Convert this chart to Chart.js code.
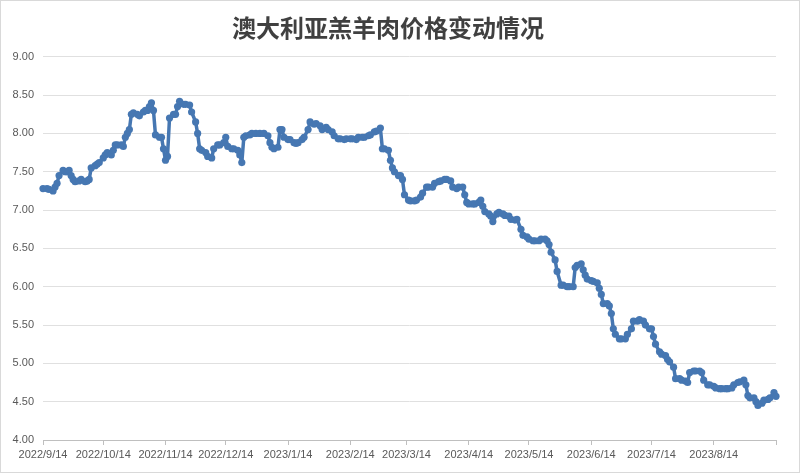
<!DOCTYPE html>
<html>
<head>
<meta charset="utf-8">
<title>澳大利亚羔羊肉价格变动情况</title>
<script src="https://cdn.jsdelivr.net/npm/chart.js@4.4.1/dist/chart.umd.min.js"></script>
<style>
  html, body { margin: 0; padding: 0; background: #fff; }
  #wrap { width: 800px; height: 473px; position: relative; }
</style>
</head>
<body>
<div id="wrap"><canvas id="chartPrecio"></canvas></div>
<script>
// dias desde 2022/9/14 (dia 0)
const dias = [
  0, 2, 3, 5, 6, 7, 8, 10, 11, 12,
  13, 14, 15, 16, 18, 19, 21, 22, 23, 24,
  26, 27, 28, 30, 31, 32, 34, 35, 36, 37,
  39, 40, 41, 42, 43, 44, 45, 47, 48, 50,
  51, 52, 53, 54, 55, 56, 58, 59, 60, 61,
  62, 63, 65, 66, 67, 68, 70, 71, 73, 74,
  76, 77, 78, 79, 81, 82, 84, 85, 87, 88,
  90, 91, 92, 94, 95, 97, 98, 99, 100, 101,
  103, 104, 106, 108, 110, 112, 113, 114, 115, 117,
  118, 119, 120, 122, 123, 125, 126, 127, 129, 130,
  132, 133, 135, 136, 138, 139, 141, 142, 144, 145,
  147, 148, 150, 151, 153, 154, 156, 157, 159, 160,
  162, 163, 165, 166, 168, 169, 170, 172, 173, 174,
  175, 177, 178, 179, 180, 182, 183, 185, 186, 188,
  189, 191, 192, 194, 195, 197, 198, 200, 201, 203,
  204, 206, 207, 209, 210, 211, 212, 214, 215, 217,
  218, 219, 220, 222, 223, 224, 226, 227, 229, 230,
  232, 233, 235, 236, 238, 239, 241, 242, 244, 245,
  247, 248, 250, 251, 252, 253, 255, 256, 258, 259,
  261, 262, 264, 265, 266, 268, 269, 270, 271, 273,
  274, 276, 277, 278, 279, 281, 282, 283, 284, 285,
  287, 288, 290, 291, 293, 294, 296, 297, 299, 300,
  302, 303, 304, 305, 307, 308, 310, 311, 312, 314,
  315, 317, 318, 320, 321, 322, 324, 325, 327, 328,
  329, 331, 332, 334, 335, 337, 338, 340, 341, 343,
  344, 346, 347, 349, 350, 351, 352, 354, 355, 356,
  358, 359, 361, 362, 364, 365
];

const precios = [
  7.28, 7.28, 7.27, 7.25, 7.30, 7.35, 7.45, 7.52, 7.50, 7.50,
  7.52, 7.45, 7.40, 7.37, 7.38, 7.40, 7.37, 7.38, 7.40, 7.55,
  7.58, 7.60, 7.62, 7.68, 7.72, 7.75, 7.72, 7.78, 7.85, 7.85,
  7.85, 7.83, 7.95, 8.00, 8.05, 8.25, 8.27, 8.25, 8.23, 8.28,
  8.30, 8.30, 8.35, 8.40, 8.30, 7.98, 7.95, 7.95, 7.80, 7.65,
  7.70, 8.20, 8.25, 8.25, 8.35, 8.42, 8.38, 8.38, 8.37, 8.28,
  8.15, 8.00, 7.80, 7.78, 7.75, 7.70, 7.68, 7.80, 7.85, 7.85,
  7.88, 7.95, 7.83, 7.80, 7.80, 7.78, 7.72, 7.62, 7.95, 7.97,
  7.98, 8.00, 8.00, 8.00, 8.00, 7.97, 7.88, 7.82, 7.80, 7.82,
  8.05, 8.05, 7.95, 7.92, 7.92, 7.88, 7.87, 7.88, 7.92, 7.95,
  8.05, 8.15, 8.12, 8.13, 8.10, 8.05, 8.08, 8.05, 8.02, 7.97,
  7.93, 7.93, 7.92, 7.93, 7.93, 7.93, 7.92, 7.95, 7.95, 7.95,
  7.97, 7.98, 8.02, 8.03, 8.07, 7.80, 7.80, 7.78, 7.65, 7.55,
  7.50, 7.45, 7.45, 7.40, 7.20, 7.13, 7.12, 7.12, 7.13, 7.17,
  7.22, 7.30, 7.30, 7.30, 7.35, 7.37, 7.38, 7.40, 7.40, 7.38,
  7.30, 7.28, 7.30, 7.30, 7.20, 7.10, 7.08, 7.08, 7.08, 7.10,
  7.13, 7.05, 6.98, 6.95, 6.92, 6.85, 6.95, 6.97, 6.95, 6.93,
  6.92, 6.88, 6.87, 6.88, 6.75, 6.67, 6.65, 6.62, 6.60, 6.60,
  6.60, 6.62, 6.62, 6.60, 6.55, 6.45, 6.35, 6.20, 6.02, 6.02,
  6.00, 6.00, 6.00, 6.25, 6.28, 6.30, 6.22, 6.15, 6.10, 6.08,
  6.07, 6.05, 5.98, 5.90, 5.78, 5.78, 5.75, 5.65, 5.45, 5.38,
  5.32, 5.32, 5.32, 5.38, 5.45, 5.55, 5.55, 5.57, 5.55, 5.50,
  5.45, 5.45, 5.35, 5.25, 5.15, 5.12, 5.10, 5.05, 5.02, 4.95,
  4.80, 4.80, 4.78, 4.77, 4.75, 4.88, 4.90, 4.90, 4.90, 4.88,
  4.78, 4.72, 4.72, 4.70, 4.68, 4.67, 4.67, 4.67, 4.67, 4.68,
  4.72, 4.75, 4.76, 4.78, 4.72, 4.58, 4.55, 4.55, 4.50, 4.45,
  4.48, 4.52, 4.53, 4.55, 4.62, 4.57
];

// marcas del eje x (inicio de cada mes)
const diasMarcas = [0, 30, 61, 91, 122, 153, 181, 212, 242, 273, 303, 334, 365];
const etiquetasMarcas = [
  '2022/9/14', '2022/10/14', '2022/11/14', '2022/12/14', '2023/1/14', '2023/2/14',
  '2023/3/14', '2023/4/14', '2023/5/14', '2023/6/14', '2023/7/14', '2023/8/14', ''
];

const TITULO = '澳大利亚羔羊肉价格变动情况';
const COLOR_LINEA = '#4677b2';
const COLOR_TEXTO = '#595959';

// fondo blanco + borde fino alrededor
const fondoPlugin = {
  id: 'fondo',
  beforeDraw(chart) {
    const { ctx, width, height } = chart;
    ctx.save();
    ctx.fillStyle = '#ffffff';
    ctx.fillRect(0, 0, width, height);
    ctx.strokeStyle = '#d9d9d9';
    ctx.lineWidth = 1;
    ctx.strokeRect(0.5, 0.5, width - 1, height - 1);
    ctx.restore();
  }
};

const ctx = document.getElementById('chartPrecio').getContext('2d');
const chartPrecio = new Chart(ctx, {
  type: 'line',
  data: {
    datasets: [{
      label: '价格',
      data: dias.map((d, i) => ({ x: d, y: precios[i] })),
      borderColor: COLOR_LINEA,
      backgroundColor: COLOR_LINEA,
      borderWidth: 3.5,
      borderJoinStyle: 'round',
      borderCapStyle: 'round',
      pointRadius: 3.6,
      pointBorderWidth: 0,
      pointBackgroundColor: COLOR_LINEA,
      tension: 0,
      clip: false
    }]
  },
  options: {
    responsive: true,
    maintainAspectRatio: false,
    animation: false,
    layout: { padding: { left: 0, right: 24, top: 0, bottom: 0 } },
    plugins: {
      legend: { display: false },
      tooltip: { enabled: false },
      title: {
        display: true,
        text: TITULO,
        color: '#404040',
        font: { family: '"Noto Sans CJK SC", sans-serif', size: 24, weight: 'bold', lineHeight: 1.2 },
        padding: { top: 13, bottom: 15 }
      }
    },
    scales: {
      x: {
        type: 'linear',
        min: 0,
        max: 365,
        afterBuildTicks: (scale) => {
          scale.ticks = diasMarcas.map(v => ({ value: v }));
        },
        afterFit: (scale) => { scale.height = 33; },
        grid: {
          drawOnChartArea: false,
          drawTicks: true,
          tickLength: 5,
          color: '#bfbfbf'
        },
        border: { display: true, color: '#bfbfbf' },
        ticks: {
          autoSkip: false,
          maxRotation: 0,
          padding: 3,
          color: COLOR_TEXTO,
          font: { family: '"Liberation Sans", sans-serif', size: 11 },
          callback: (v) => {
            const i = diasMarcas.indexOf(v);
            return i >= 0 ? etiquetasMarcas[i] : '';
          }
        }
      },
      y: {
        min: 4,
        max: 9,
        afterFit: (scale) => { scale.width = 43; },
        grid: {
          color: '#e0e0e0',
          drawTicks: false
        },
        border: { display: false },
        ticks: {
          stepSize: 0.5,
          padding: 9,
          color: COLOR_TEXTO,
          font: { family: '"Liberation Sans", sans-serif', size: 11 },
          callback: (v) => v.toFixed(2)
        }
      }
    }
  },
  plugins: [fondoPlugin]
});
</script>
</body>
</html>
